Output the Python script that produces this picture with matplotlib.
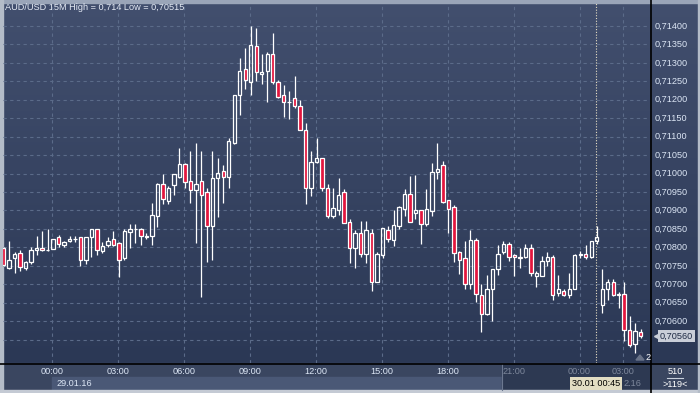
import numpy as np
import matplotlib.pyplot as plt
from matplotlib import transforms
from matplotlib.colors import LinearSegmentedColormap
from matplotlib.patches import Rectangle, Polygon

plt.rcParams['font.family'] = ['Liberation Sans', 'DejaVu Sans']

# AUD/USD 15 minute candles (oldest first)
opens = [0.70797, 0.70745, 0.70772, 0.70785, 0.70744, 0.70761, 0.70792, 0.70797, 0.70792, 0.70796,
         0.70827, 0.70807, 0.70816, 0.70822, 0.70827, 0.70767, 0.70827, 0.70849, 0.70791, 0.70807,
         0.70822, 0.70813, 0.70772, 0.70843, 0.70849, 0.70849, 0.70832, 0.70831, 0.70886, 0.70973,
         0.70927, 0.70968, 0.70991, 0.71027, 0.70979, 0.70956, 0.70979, 0.70949, 0.70857, 0.70988,
         0.71007, 0.70990, 0.71082, 0.71213, 0.71284, 0.71247, 0.71345, 0.71269, 0.71278, 0.71324,
         0.71247, 0.71213, 0.71193, 0.71205, 0.71183, 0.71118, 0.70961, 0.71031, 0.71042, 0.70961,
         0.70885, 0.70902, 0.70950, 0.70869, 0.70799, 0.70840, 0.70781, 0.70840, 0.70706, 0.70780,
         0.70846, 0.70819, 0.70858, 0.70905, 0.70946, 0.70894, 0.70900, 0.70863, 0.70899, 0.71005,
         0.71022, 0.70928, 0.70910, 0.70788, 0.70770, 0.70700, 0.70819, 0.70671, 0.70619, 0.70688,
         0.70741, 0.70788, 0.70810, 0.70780, 0.70772, 0.70775, 0.70799, 0.70723, 0.70723, 0.70763,
         0.70775, 0.70677, 0.70682, 0.70670, 0.70688, 0.70780, 0.70783, 0.70775, 0.70816, 0.70643,
         0.70688, 0.70707, 0.70673, 0.70673, 0.70576, 0.70537, 0.70572]
highs = [0.70800, 0.70817, 0.70787, 0.70793, 0.70763, 0.70802, 0.70831, 0.70844, 0.70849, 0.70824,
         0.70833, 0.70818, 0.70832, 0.70832, 0.70828, 0.70828, 0.70850, 0.70850, 0.70814, 0.70828,
         0.70844, 0.70814, 0.70849, 0.70863, 0.70863, 0.70853, 0.70838, 0.70921, 0.70974, 0.70999,
         0.70966, 0.71000, 0.71068, 0.71028, 0.71060, 0.71083, 0.71060, 0.70962, 0.71060, 0.71042,
         0.71023, 0.71097, 0.71214, 0.71312, 0.71341, 0.71400, 0.71395, 0.71323, 0.71330, 0.71381,
         0.71254, 0.71240, 0.71225, 0.71265, 0.71200, 0.71138, 0.71062, 0.71097, 0.71043, 0.70972,
         0.70962, 0.70988, 0.70957, 0.70876, 0.70846, 0.70871, 0.70871, 0.70849, 0.70788, 0.70853,
         0.70858, 0.70901, 0.70911, 0.70959, 0.70993, 0.70995, 0.70901, 0.70957, 0.71030, 0.71082,
         0.71035, 0.70929, 0.70914, 0.70789, 0.70818, 0.70846, 0.70825, 0.70700, 0.70724, 0.70742,
         0.70806, 0.70817, 0.70815, 0.70781, 0.70797, 0.70810, 0.70808, 0.70736, 0.70777, 0.70788,
         0.70779, 0.70724, 0.70688, 0.70730, 0.70781, 0.70790, 0.70806, 0.70817, 0.70858, 0.70741,
         0.70715, 0.70715, 0.70679, 0.70707, 0.70614, 0.70596, 0.70578]
lows = [0.70750, 0.70742, 0.70731, 0.70737, 0.70740, 0.70756, 0.70779, 0.70790, 0.70790, 0.70796,
        0.70802, 0.70802, 0.70814, 0.70814, 0.70750, 0.70755, 0.70773, 0.70779, 0.70786, 0.70802,
        0.70805, 0.70720, 0.70766, 0.70797, 0.70813, 0.70806, 0.70822, 0.70806, 0.70856, 0.70917,
        0.70917, 0.70941, 0.70987, 0.70962, 0.70920, 0.70811, 0.70665, 0.70761, 0.70765, 0.70882,
        0.70920, 0.70960, 0.71080, 0.71159, 0.71229, 0.71213, 0.71252, 0.71242, 0.71193, 0.71242,
        0.71204, 0.71153, 0.71147, 0.71178, 0.71117, 0.70917, 0.70940, 0.71030, 0.70952, 0.70881,
        0.70881, 0.70889, 0.70865, 0.70759, 0.70745, 0.70775, 0.70759, 0.70682, 0.70705, 0.70770,
        0.70815, 0.70804, 0.70851, 0.70885, 0.70869, 0.70876, 0.70808, 0.70858, 0.70885, 0.70984,
        0.70921, 0.70840, 0.70761, 0.70727, 0.70688, 0.70688, 0.70652, 0.70571, 0.70616, 0.70601,
        0.70724, 0.70781, 0.70763, 0.70723, 0.70745, 0.70772, 0.70723, 0.70694, 0.70722, 0.70750,
        0.70658, 0.70668, 0.70668, 0.70664, 0.70687, 0.70772, 0.70768, 0.70772, 0.70810, 0.70623,
        0.70658, 0.70668, 0.70637, 0.70546, 0.70531, 0.70515, 0.70555]
closes = [0.70752, 0.70767, 0.70781, 0.70746, 0.70761, 0.70792, 0.70797, 0.70792, 0.70792, 0.70822,
          0.70809, 0.70815, 0.70822, 0.70822, 0.70767, 0.70827, 0.70849, 0.70792, 0.70803, 0.70816,
          0.70807, 0.70767, 0.70844, 0.70849, 0.70849, 0.70831, 0.70827, 0.70887, 0.70973, 0.70932,
          0.70962, 0.70998, 0.71026, 0.70978, 0.70956, 0.70973, 0.70942, 0.70857, 0.70989, 0.71002,
          0.70990, 0.71088, 0.71213, 0.71278, 0.71254, 0.71349, 0.71274, 0.71274, 0.71324, 0.71247,
          0.71208, 0.71193, 0.71195, 0.71183, 0.71118, 0.70961, 0.71032, 0.71043, 0.70961, 0.70884,
          0.70907, 0.70942, 0.70867, 0.70799, 0.70840, 0.70781, 0.70846, 0.70706, 0.70783, 0.70852,
          0.70824, 0.70860, 0.70910, 0.70946, 0.70870, 0.70900, 0.70863, 0.70905, 0.71005, 0.71012,
          0.70924, 0.70905, 0.70784, 0.70765, 0.70700, 0.70819, 0.70673, 0.70619, 0.70688, 0.70741,
          0.70783, 0.70810, 0.70775, 0.70775, 0.70773, 0.70799, 0.70730, 0.70730, 0.70763, 0.70775,
          0.70672, 0.70688, 0.70672, 0.70688, 0.70780, 0.70781, 0.70775, 0.70816, 0.70829, 0.70688,
          0.70707, 0.70671, 0.70672, 0.70576, 0.70535, 0.70573, 0.70560]

price_ticks = [0.7055, 0.7060, 0.7065, 0.7070, 0.7075, 0.7080, 0.7085, 0.7090, 0.7095,
               0.7100, 0.7105, 0.7110, 0.7115, 0.7120, 0.7125, 0.7130, 0.7135, 0.7140]
time_bars = [9, 21, 33, 45, 57, 69, 81, 93, 105, 113]
time_labels = ['00:00', '03:00', '06:00', '09:00', '12:00', '15:00', '18:00', '21:00', '00:00', '03:00']
cursor_bar = 108
cursor_label = '30.01 00:45'

red = '#e3163e'
grid_col = '#5b6b89'
txt_col = '#dce6f5'

fig = plt.figure(figsize=(7, 3.93), dpi=100)
fig.patch.set_facecolor('#3a4762')

# window background, drawn in pixel coordinates
bg = fig.add_axes([0, 0, 1, 1])
bg.set_xlim(0, 700)
bg.set_ylim(393, 0)
bg.axis('off')
cmap = LinearSegmentedColormap.from_list('bg', ['#424f6e', '#2b3855'])
bg.imshow(np.linspace(0, 1, 256).reshape(-1, 1), cmap=cmap, aspect='auto',
          extent=[0, 700, 363, 0])
bg.add_patch(Rectangle((0, 363), 700, 30, color='#3a4660'))
bg.add_patch(Rectangle((52, 377), 450, 13, color='#4a5876'))
bg.add_patch(Rectangle((502, 364), 148, 26, color='#2d3952'))
bg.plot([502, 502], [364, 390], color='#6c7890', lw=0.8)
bg.plot([0, 700], [363.5, 363.5], color='black', lw=1.2)
bg.plot([650.5, 650.5], [0, 393], color='black', lw=1.2)
bg.add_patch(Rectangle((0, 0), 700, 2.5, color='#9aa5b8'))
bg.add_patch(Rectangle((0, 0), 2.5, 393, color='#b4bcc8'))
bg.add_patch(Rectangle((0, 390), 700, 3, color='#c4cad4'))
bg.add_patch(Rectangle((697.5, 0), 2.5, 393, color='#b4bcc8'))

title = 'AUD/USD 15M High = %s Low = %s' % (('%g' % max(highs)).replace('.', ','),
                                            ('%g' % min(lows)).replace('.', ','))
bg.text(5, 8, title, color='#e6ecf6', fontsize=6.6, va='center')
bg.text(56, 383.5, '29.01.16', color=txt_col, fontsize=6.6, va='center')
bg.text(623, 383.5, '2.16', color='#7d879b', fontsize=6.6, va='center')
bg.text(675, 371, str(len(opens) + 393), color='white', fontsize=6.6, va='center', ha='center')
bg.plot([667, 683], [377.5, 377.5], color='#c8d0dc', lw=0.8)
bg.text(675, 384.5, '>%d<' % (len(opens) + 2), color='white', fontsize=6.6, va='center', ha='center')
bg.add_patch(Polygon([[636, 360], [644, 360], [640, 355]], color='#6a7489'))
bg.text(648, 358, '2', color='white', fontsize=6.6, va='center', ha='center')

# chart area
ax = fig.add_axes([3 / 700, 30 / 393, 647 / 700, 360 / 393])
ax.patch.set_alpha(0)
ax.set_axis_off()
ax.set_xlim(-0.11, 117.7)
ax.set_ylim(0.704867, 0.714623)

for p in price_ticks:
    ax.axhline(p, color=grid_col, lw=0.8, ls=(0, (3, 3)), zorder=1)
for b in time_bars:
    ax.axvline(b - 0.13, color=grid_col, lw=0.8, ls=(0, (3, 3)), zorder=1)
ax.axvline(cursor_bar - 0.05, color='#e8dfc4', lw=0.8, ls=(0, (1, 1.5)), zorder=2)

o = np.array(opens)
h = np.array(highs)
l = np.array(lows)
c = np.array(closes)
idx = np.arange(len(o))
top = np.maximum(o, c)
bot = np.minimum(o, c)
ax.vlines(idx, top, h, color='white', lw=0.9, zorder=3)
ax.vlines(idx, l, bot, color='white', lw=0.9, zorder=3)
face = [red if cc < oo else 'none' for oo, cc in zip(o, c)]
ax.bar(idx, top - bot, bottom=bot, width=0.62, color=face, edgecolor='white',
       linewidth=0.9, zorder=4)

# price scale on the right (the lowest level sits under the last price box)
ytrans = transforms.blended_transform_factory(bg.transData, ax.transData)
for p in price_ticks[1:]:
    ax.text(655, p, ('%.5f' % p).replace('.', ','), transform=ytrans, color=txt_col,
            fontsize=6.6, va='center', ha='left')
ax.plot(656.5, closes[-1], marker='<', ms=4, color='#c9ced8', transform=ytrans,
        clip_on=False, zorder=6)
ax.text(659.5, closes[-1], ('%.5f' % closes[-1]).replace('.', ','), transform=ytrans,
        color='#1e2a44', fontsize=6.6, va='center', ha='left', zorder=7,
        bbox=dict(boxstyle='square,pad=0.2', fc='#c9ced8', ec='none'))

# time scale at the bottom
xtrans = transforms.blended_transform_factory(ax.transData, bg.transData)
for b, lab in zip(time_bars, time_labels):
    col = txt_col if b < 90 else '#7d879b'
    ax.text(b - 0.13, 371, lab, transform=xtrans, color=col, fontsize=6.6,
            va='center', ha='center', clip_on=False)
ax.text(cursor_bar - 0.05, 383.5, cursor_label, transform=xtrans, color='black',
        fontsize=6.6, va='center', ha='center', zorder=7,
        bbox=dict(boxstyle='square,pad=0.2', fc='#e2ddc3', ec='none'))

fig.savefig('out.png', dpi=100, facecolor=fig.get_facecolor())
